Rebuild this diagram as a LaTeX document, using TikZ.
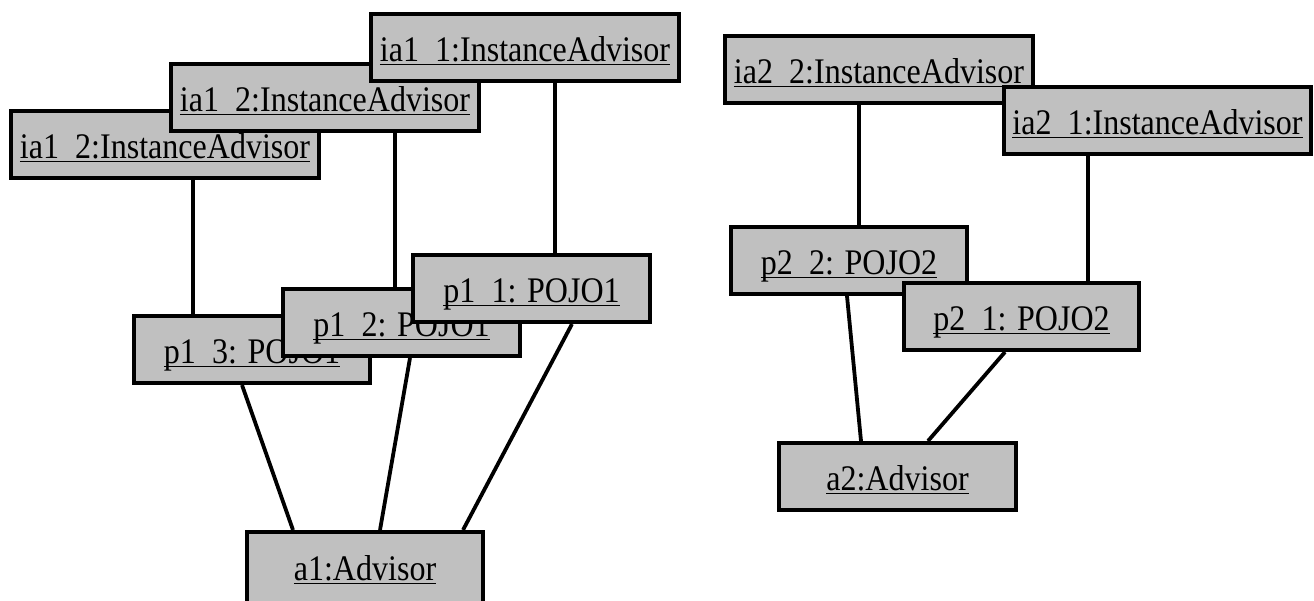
\documentclass[tikz,border=0pt]{standalone}
\usepackage{fontspec}
\setmainfont{Liberation Serif}[FakeStretch=0.89]
\definecolor{boxgray}{RGB}{192,192,192}
\pgfdeclarelayer{background}
\pgfsetlayers{background,main}
\newcommand\objfont{\fontsize{36}{42}\selectfont}
\newcommand\ulbox[1]{\setbox0\hbox{#1}\rlap{\rule[-0.12em]{\wd0}{0.05em}}\box0}
\newcommand\us{\rule[-0.12em]{0.45em}{0.05em}}
\tikzset{
  obj/.style={draw, line width=4pt, fill=boxgray, rectangle, inner sep=0pt,
    minimum height=67pt, text height=27pt, text depth=0pt, font=\objfont},
  iabox/.style={obj, minimum width=308pt},
  pbox/.style={obj, minimum width=236.5pt},
  conn/.style={line width=3.8pt}
}
\begin{document}
\begin{tikzpicture}[x=1pt,y=-1pt]
\useasboundingbox (0,0) rectangle (1314,600);
\clip (0,0) rectangle (1314,600);
% nodes (draw order matters for overlaps)
\path
  (165,144.5)  node[iabox] (ia12l) {\ulbox{ia1\us 2:InstanceAdvisor}}
  (325,97.5)   node[iabox] (ia12m) {\ulbox{ia1\us 2:InstanceAdvisor}}
  (525,47.5)   node[iabox] (ia11)  {\ulbox{ia1\us 1:InstanceAdvisor}}
  (252,349.5)  node[pbox]  (p13)   {\ulbox{p1\us 3: POJO1}}
  (401.5,322.5) node[pbox] (p12)   {\ulbox{p1\us 2: POJO1}}
  (531.5,288.5) node[pbox] (p11)   {\ulbox{p1\us 1: POJO1}}
  (365,569.5)  node[pbox, minimum height=75pt, text height=21pt] (a1) {\ulbox{a1:Advisor}}
  (879,69.5)   node[iabox] (ia22)  {\ulbox{ia2\us 2:InstanceAdvisor}}
  (1157.5,120.5) node[iabox, minimum width=307pt] (ia21) {\ulbox{ia2\us 1:InstanceAdvisor}}
  (849,260.5)  node[pbox, minimum width=236pt] (p22) {\ulbox{p2\us 2: POJO2}}
  (1021.5,316.5) node[pbox, minimum width=235pt] (p21) {\ulbox{p2\us 1: POJO2}}
  (897.5,476.5) node[pbox] (a2) {\ulbox{a2:Advisor}};
% connectors drawn behind the boxes
\begin{pgfonlayer}{background}
  \draw[conn] ([xshift=28pt]ia12l.south) -- ([xshift=-59pt]p13.north);
  \draw[conn] ([xshift=70pt]ia12m.south) -- ([xshift=-6.5pt]p12.north);
  \draw[conn] ([xshift=30pt]ia11.south) -- ([xshift=23.5pt]p11.north);
  \draw[conn] ([xshift=-10pt]p13.south) -- ([xshift=-72pt]a1.north);
  \draw[conn] ([xshift=8.5pt]p12.south) -- ([xshift=15pt]a1.north);
  \draw[conn] ([xshift=40.5pt]p11.south) -- ([xshift=98pt]a1.north);
  \draw[conn] ([xshift=-20pt]ia22.south) -- ([xshift=10pt]p22.north);
  \draw[conn] ([xshift=-69.5pt]ia21.south) -- ([xshift=66.5pt]p21.north);
  \draw[conn] ([xshift=-2pt]p22.south) -- ([xshift=-36.5pt]a2.north);
  \draw[conn] ([xshift=-16.5pt]p21.south) -- ([xshift=30.5pt]a2.north);
\end{pgfonlayer}
\end{tikzpicture}
\end{document}
